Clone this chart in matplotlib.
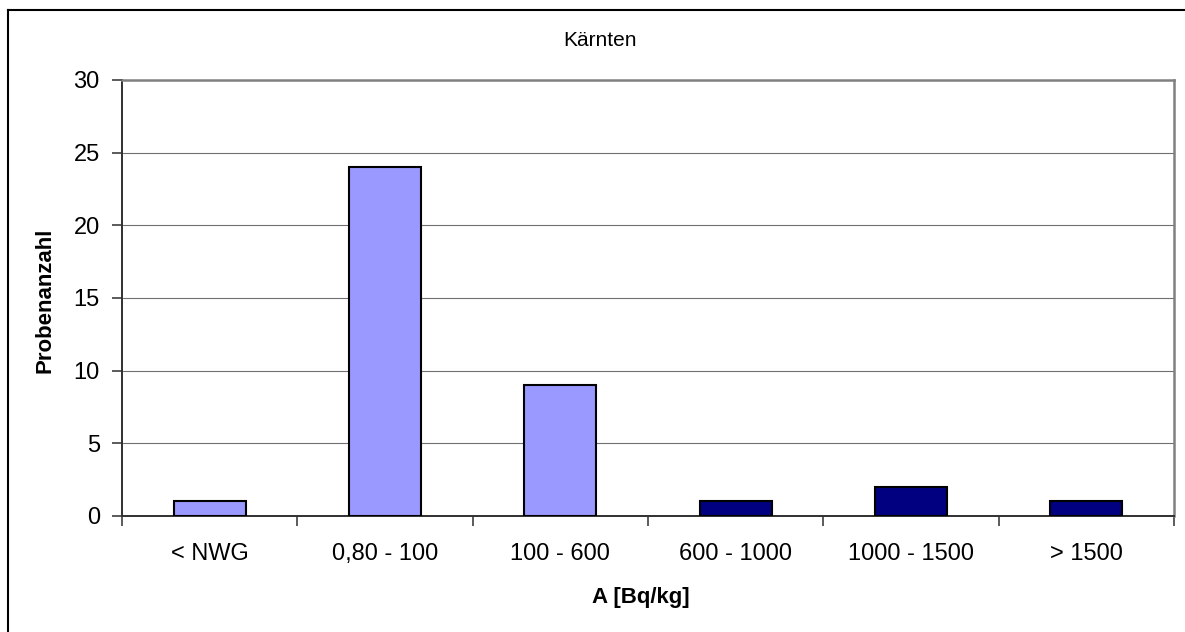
import matplotlib
matplotlib.use('Agg')
import matplotlib.pyplot as plt
from matplotlib.lines import Line2D

plt.rcParams['font.family'] = ['Liberation Sans', 'DejaVu Sans']

categories = ['< NWG', '0,80 - 100', '100 - 600', '600 - 1000', '1000 - 1500', '> 1500']
counts = [1, 24, 9, 1, 2, 1]
bar_colors = ['#9999FF', '#9999FF', '#9999FF', '#000080', '#000080', '#000080']

fig = plt.figure(figsize=(11.85, 6.32), dpi=100)
ax = fig.add_axes([122 / 1185, 1 - 516 / 632, (1174 - 122) / 1185, (516 - 80) / 632])

x = list(range(len(categories)))
ax.bar(x, counts, width=0.41, color=bar_colors, edgecolor='black', linewidth=1.5, zorder=3)

ax.set_xlim(-0.5, len(categories) - 0.5)
ax.set_ylim(0, 30)
ax.set_yticks(range(0, 31, 5))
ax.yaxis.grid(True, color='#707070', linewidth=0.8, zorder=0)

ax.set_xticks(x)
ax.set_xticklabels(categories, fontsize=17)
ax.set_xticks([i - 0.5 for i in range(len(categories) + 1)], minor=True)
ax.tick_params(axis='x', which='major', length=0, pad=19.5)
ax.tick_params(axis='x', which='minor', length=7, width=1.2, color='#404040')
ax.tick_params(axis='y', labelsize=17, length=7, width=1.2, color='#404040', pad=9)

for side in ['top', 'right']:
    ax.spines[side].set_color('#808080')
    ax.spines[side].set_linewidth(1.8)
for side in ['left', 'bottom']:
    ax.spines[side].set_color('#303030')
    ax.spines[side].set_linewidth(1.4)

fig.text(600 / 1185, 1 - 40 / 632, 'Kärnten', ha='center', va='center', fontsize=15)
fig.text(641 / 1185, 1 - 598 / 632, 'A [Bq/kg]', ha='center', va='center', fontsize=16, fontweight='bold')
fig.text(45 / 1185, 1 - 300 / 632, 'Probenanzahl', ha='center', va='center', rotation=90,
         fontsize=16, fontweight='bold')

# outer frame (only left and top edges visible)
fig.add_artist(Line2D([8 / 1185, 8 / 1185], [0, 1 - 10 / 632], color='black', linewidth=1.5))
fig.add_artist(Line2D([8 / 1185, 1], [1 - 10 / 632, 1 - 10 / 632], color='black', linewidth=1.5))

fig.savefig('out.png', dpi=100)
